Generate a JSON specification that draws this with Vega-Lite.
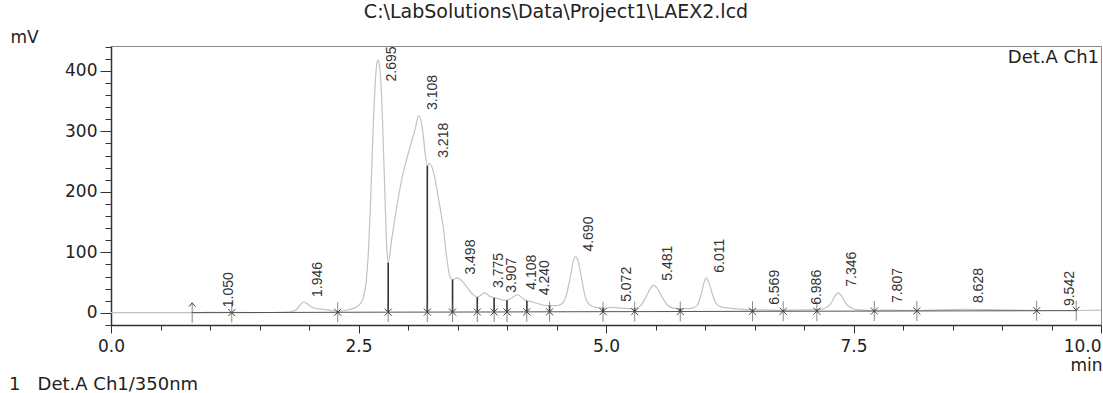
{
  "$schema": "https://vega.github.io/schema/vega-lite/v6.json",
  "autosize": {"type": "none"},
  "width": 990,
  "height": 279,
  "padding": {"left": 111, "top": 46, "right": 2, "bottom": 68},
  "background": "white",
  "title": {"text": "C:\\LabSolutions\\Data\\Project1\\LAEX2.lcd", "anchor": "middle", "dx": -50, "offset": 6, "font": "DejaVu Sans", "fontSize": 19, "fontWeight": "normal", "color": "#222"},
  "datasets": {
    "signal": [
      {"t": 0.0, "v": 0.3}, {"t": 0.5, "v": 0.3}, {"t": 0.9, "v": 0.5}, {"t": 1.0, "v": 0.8}, {"t": 1.05, "v": 1.0}, {"t": 1.1, "v": 0.7},
      {"t": 1.5, "v": 0.6}, {"t": 1.8, "v": 1.5}, {"t": 1.87, "v": 5}, {"t": 1.91, "v": 13}, {"t": 1.946, "v": 18}, {"t": 1.98, "v": 15},
      {"t": 2.02, "v": 10}, {"t": 2.08, "v": 7}, {"t": 2.15, "v": 6}, {"t": 2.24, "v": 3.5}, {"t": 2.29, "v": 2.5}, {"t": 2.35, "v": 3.5},
      {"t": 2.42, "v": 6}, {"t": 2.48, "v": 10}, {"t": 2.52, "v": 16}, {"t": 2.55, "v": 26}, {"t": 2.58, "v": 55}, {"t": 2.6, "v": 100},
      {"t": 2.62, "v": 175}, {"t": 2.65, "v": 314}, {"t": 2.68, "v": 405}, {"t": 2.695, "v": 418}, {"t": 2.71, "v": 410}, {"t": 2.73, "v": 369},
      {"t": 2.76, "v": 231}, {"t": 2.785, "v": 110}, {"t": 2.8, "v": 83}, {"t": 2.835, "v": 121}, {"t": 2.886, "v": 175}, {"t": 2.936, "v": 220},
      {"t": 2.98, "v": 250}, {"t": 3.02, "v": 274}, {"t": 3.07, "v": 302}, {"t": 3.108, "v": 326}, {"t": 3.148, "v": 302}, {"t": 3.17, "v": 269},
      {"t": 3.195, "v": 243}, {"t": 3.218, "v": 247}, {"t": 3.26, "v": 231}, {"t": 3.31, "v": 187}, {"t": 3.36, "v": 137}, {"t": 3.39, "v": 93},
      {"t": 3.42, "v": 62}, {"t": 3.45, "v": 55}, {"t": 3.498, "v": 58}, {"t": 3.56, "v": 50}, {"t": 3.63, "v": 35}, {"t": 3.7, "v": 26},
      {"t": 3.775, "v": 33}, {"t": 3.83, "v": 27}, {"t": 3.87, "v": 25}, {"t": 3.907, "v": 24}, {"t": 3.96, "v": 21}, {"t": 4.0, "v": 21},
      {"t": 4.05, "v": 25}, {"t": 4.108, "v": 30}, {"t": 4.16, "v": 24}, {"t": 4.2, "v": 20}, {"t": 4.24, "v": 19}, {"t": 4.3, "v": 16},
      {"t": 4.4, "v": 12}, {"t": 4.5, "v": 12}, {"t": 4.56, "v": 16}, {"t": 4.6, "v": 30}, {"t": 4.64, "v": 60}, {"t": 4.67, "v": 86},
      {"t": 4.69, "v": 93}, {"t": 4.72, "v": 85}, {"t": 4.75, "v": 60}, {"t": 4.79, "v": 27}, {"t": 4.84, "v": 13}, {"t": 4.9, "v": 9},
      {"t": 4.97, "v": 8}, {"t": 5.072, "v": 9}, {"t": 5.15, "v": 8}, {"t": 5.29, "v": 7}, {"t": 5.35, "v": 12}, {"t": 5.4, "v": 25},
      {"t": 5.44, "v": 38}, {"t": 5.481, "v": 46}, {"t": 5.52, "v": 40}, {"t": 5.57, "v": 25}, {"t": 5.62, "v": 13}, {"t": 5.68, "v": 8},
      {"t": 5.75, "v": 7}, {"t": 5.85, "v": 7}, {"t": 5.92, "v": 12}, {"t": 5.96, "v": 30}, {"t": 5.99, "v": 50}, {"t": 6.011, "v": 58},
      {"t": 6.04, "v": 50}, {"t": 6.08, "v": 28}, {"t": 6.12, "v": 14}, {"t": 6.18, "v": 9}, {"t": 6.3, "v": 7}, {"t": 6.48, "v": 5},
      {"t": 6.569, "v": 5}, {"t": 6.79, "v": 4}, {"t": 6.986, "v": 5}, {"t": 7.13, "v": 5}, {"t": 7.22, "v": 8}, {"t": 7.28, "v": 18},
      {"t": 7.32, "v": 30}, {"t": 7.346, "v": 33}, {"t": 7.38, "v": 28}, {"t": 7.42, "v": 16}, {"t": 7.48, "v": 8}, {"t": 7.55, "v": 5},
      {"t": 7.71, "v": 4}, {"t": 7.807, "v": 4.5}, {"t": 8.14, "v": 4}, {"t": 8.628, "v": 6}, {"t": 9.0, "v": 5}, {"t": 9.35, "v": 4},
      {"t": 9.542, "v": 4}, {"t": 9.75, "v": 4}, {"t": 10.0, "v": 4.5}
    ],
    "markers": [
      {"t": 0.82, "base": 0.4, "top": 0.5, "kind": "start"},
      {"t": 1.22, "base": 0.5, "top": 0.6, "kind": "mid"},
      {"t": 2.29, "base": 1.0, "top": 2.5, "kind": "mid"},
      {"t": 2.8, "base": 1.2, "top": 83, "kind": "mid"},
      {"t": 3.195, "base": 1.3, "top": 243, "kind": "mid"},
      {"t": 3.45, "base": 1.4, "top": 55, "kind": "mid"},
      {"t": 3.7, "base": 1.5, "top": 26, "kind": "mid"},
      {"t": 3.87, "base": 1.5, "top": 25, "kind": "mid"},
      {"t": 4.0, "base": 1.6, "top": 21, "kind": "mid"},
      {"t": 4.2, "base": 1.7, "top": 20, "kind": "mid"},
      {"t": 4.43, "base": 1.8, "top": 12, "kind": "mid"},
      {"t": 4.97, "base": 2.0, "top": 8, "kind": "mid"},
      {"t": 5.29, "base": 2.1, "top": 7, "kind": "mid"},
      {"t": 5.75, "base": 2.3, "top": 7, "kind": "mid"},
      {"t": 6.48, "base": 2.6, "top": 5, "kind": "mid"},
      {"t": 6.79, "base": 2.7, "top": 4, "kind": "mid"},
      {"t": 7.13, "base": 2.8, "top": 5, "kind": "mid"},
      {"t": 7.71, "base": 3.0, "top": 4, "kind": "mid"},
      {"t": 8.14, "base": 3.2, "top": 4, "kind": "mid"},
      {"t": 9.35, "base": 3.6, "top": 4, "kind": "mid"},
      {"t": 9.75, "base": 3.7, "top": 4, "kind": "end"}
    ],
    "peaks": [
      {"rt": 1.05, "label_mV": 1},
      {"rt": 1.946, "label_mV": 18},
      {"rt": 2.695, "label_mV": 374},
      {"rt": 3.108, "label_mV": 327},
      {"rt": 3.218, "label_mV": 248},
      {"rt": 3.498, "label_mV": 55},
      {"rt": 3.775, "label_mV": 33},
      {"rt": 3.907, "label_mV": 25},
      {"rt": 4.108, "label_mV": 30},
      {"rt": 4.24, "label_mV": 21},
      {"rt": 4.69, "label_mV": 93},
      {"rt": 5.072, "label_mV": 10},
      {"rt": 5.481, "label_mV": 45},
      {"rt": 6.011, "label_mV": 58},
      {"rt": 6.569, "label_mV": 5},
      {"rt": 6.986, "label_mV": 5},
      {"rt": 7.346, "label_mV": 35},
      {"rt": 7.807, "label_mV": 8},
      {"rt": 8.628, "label_mV": 8},
      {"rt": 9.542, "label_mV": 3}
    ],
    "note": [{"t": 10, "v": 441, "label": "Det.A Ch1"}]
  },
  "layer": [
    {
      "data": {"name": "signal"},
      "mark": {"type": "line", "strokeWidth": 1.2, "interpolate": "monotone", "clip": true},
      "encoding": {
        "x": {"field": "t", "type": "quantitative", "scale": {"domain": [0, 10], "nice": false, "zero": false},
          "axis": {
            "title": "min", "titleX": 991, "titleY": 40, "titleAlign": "right", "titleBaseline": "middle",
            "titleFont": "DejaVu Sans", "titleFontSize": 17, "titleFontWeight": "normal", "titleColor": "#222",
            "values": [0, 0.5, 1, 1.5, 2, 2.5, 3, 3.5, 4, 4.5, 5, 5.5, 6, 6.5, 7, 7.5, 8, 8.5, 9, 9.5, 10],
            "tickCount": 100,
            "labelExpr": "datum.value % 2.5 === 0 ? format(datum.value, '.1f') : ''",
            "labelAlign": {"condition": {"test": "datum.value === 10", "value": "right"}, "value": "center"},
            "labelFont": "DejaVu Sans", "labelFontSize": 17, "labelColor": "#222", "labelPadding": 5, "labelOverlap": false, "labelFlush": false,
            "ticks": true,
            "tickSize": {"condition": {"test": "datum.value % 2.5 === 0", "value": 8}, "value": 5},
            "tickWidth": 1,
            "tickColor": "#333", "domainColor": "#333", "domainWidth": 1.5, "grid": false
          }
        },
        "y": {"field": "v", "type": "quantitative", "scale": {"domain": [-20, 441], "nice": false, "zero": false},
          "axis": {
            "title": "mV", "titleAngle": 0, "titleX": -87, "titleY": -9, "titleAlign": "center", "titleBaseline": "middle",
            "titleFont": "DejaVu Sans", "titleFontSize": 17, "titleFontWeight": "normal", "titleColor": "#222",
            "values": [-20, 0, 20, 40, 60, 80, 100, 120, 140, 160, 180, 200, 220, 240, 260, 280, 300, 320, 340, 360, 380, 400, 420, 440],
            "tickCount": 100,
            "labelExpr": "datum.value % 100 === 0 ? datum.label : ''",
            "labelFont": "DejaVu Sans", "labelFontSize": 17, "labelColor": "#222", "labelPadding": 3, "labelOverlap": false,
            "ticks": true,
            "tickSize": {"condition": {"test": "datum.value % 100 === 0", "value": 11}, "value": 6},
            "tickWidth": 1,
            "tickColor": "#333", "domainColor": "#333", "domainWidth": 1.5, "grid": false
          }
        },
        "color": {"datum": "Det.A Ch1/350nm", "type": "nominal", "scale": {"range": ["#c2c2c2"]},
          "legend": {"title": null, "orient": "none", "legendX": -120, "legendY": 330, "padding": 0,
            "symbolSize": 0, "symbolOpacity": 0, "symbolStrokeWidth": 0, "labelOffset": 0,
            "labelExpr": "'1\u00a0\u00a0\u00a0' + datum.label", "labelFont": "DejaVu Sans", "labelFontSize": 18, "labelColor": "#222", "labelLimit": 400}
        }
      }
    },
    {
      "data": {"name": "markers"},
      "mark": {"type": "line", "color": "#555", "strokeWidth": 1},
      "encoding": {
        "x": {"field": "t", "type": "quantitative"},
        "y": {"field": "base", "type": "quantitative"}
      }
    },
    {
      "data": {"name": "markers"},
      "mark": {"type": "rule", "color": "#303030", "strokeWidth": 1.6},
      "encoding": {
        "x": {"field": "t", "type": "quantitative"},
        "y": {"field": "base", "type": "quantitative"},
        "y2": {"field": "top"}
      }
    },
    {
      "data": {"name": "markers"},
      "mark": {"type": "tick", "orient": "vertical", "size": 20, "thickness": 1, "color": "#555"},
      "encoding": {
        "x": {"field": "t", "type": "quantitative"},
        "y": {"field": "base", "type": "quantitative"}
      }
    },
    {
      "data": {"name": "markers"},
      "transform": [{"filter": "datum.kind === 'mid'"}],
      "mark": {"type": "point", "shape": "M-1,-1L1,1M-1,1L1,-1", "size": 50, "filled": false, "stroke": "#444", "strokeWidth": 1, "opacity": 1},
      "encoding": {
        "x": {"field": "t", "type": "quantitative"},
        "y": {"field": "base", "type": "quantitative"}
      }
    },
    {
      "data": {"name": "markers"},
      "transform": [{"filter": "datum.kind === 'start'"}],
      "mark": {"type": "point", "shape": "M-1,0.6L0,-0.6L1,0.6", "size": 40, "filled": false, "stroke": "#444", "strokeWidth": 1, "opacity": 1, "yOffset": -8},
      "encoding": {
        "x": {"field": "t", "type": "quantitative"},
        "y": {"field": "base", "type": "quantitative"}
      }
    },
    {
      "data": {"name": "markers"},
      "transform": [{"filter": "datum.kind === 'end'"}],
      "mark": {"type": "point", "shape": "M-1,-0.6L0,0.6L1,-0.6", "size": 40, "filled": false, "stroke": "#444", "strokeWidth": 1, "opacity": 1, "yOffset": -2},
      "encoding": {
        "x": {"field": "t", "type": "quantitative"},
        "y": {"field": "base", "type": "quantitative"}
      }
    },
    {
      "data": {"name": "peaks"},
      "mark": {"type": "text", "angle": 270, "align": "left", "baseline": "middle", "dx": 5, "dy": 14, "font": "Liberation Sans", "fontSize": 14, "color": "#333"},
      "encoding": {
        "x": {"field": "rt", "type": "quantitative"},
        "y": {"field": "label_mV", "type": "quantitative"},
        "text": {"field": "rt", "type": "quantitative", "format": ".3f"}
      }
    },
    {
      "data": {"name": "note"},
      "mark": {"type": "text", "align": "right", "baseline": "top", "dx": -2, "dy": 3, "font": "DejaVu Sans", "fontSize": 18, "color": "#222"},
      "encoding": {
        "x": {"field": "t", "type": "quantitative"},
        "y": {"field": "v", "type": "quantitative"},
        "text": {"field": "label", "type": "nominal"}
      }
    }
  ],
  "config": {
    "view": {"stroke": "#8a8a8a", "strokeWidth": 1},
    "font": "DejaVu Sans"
  }
}
